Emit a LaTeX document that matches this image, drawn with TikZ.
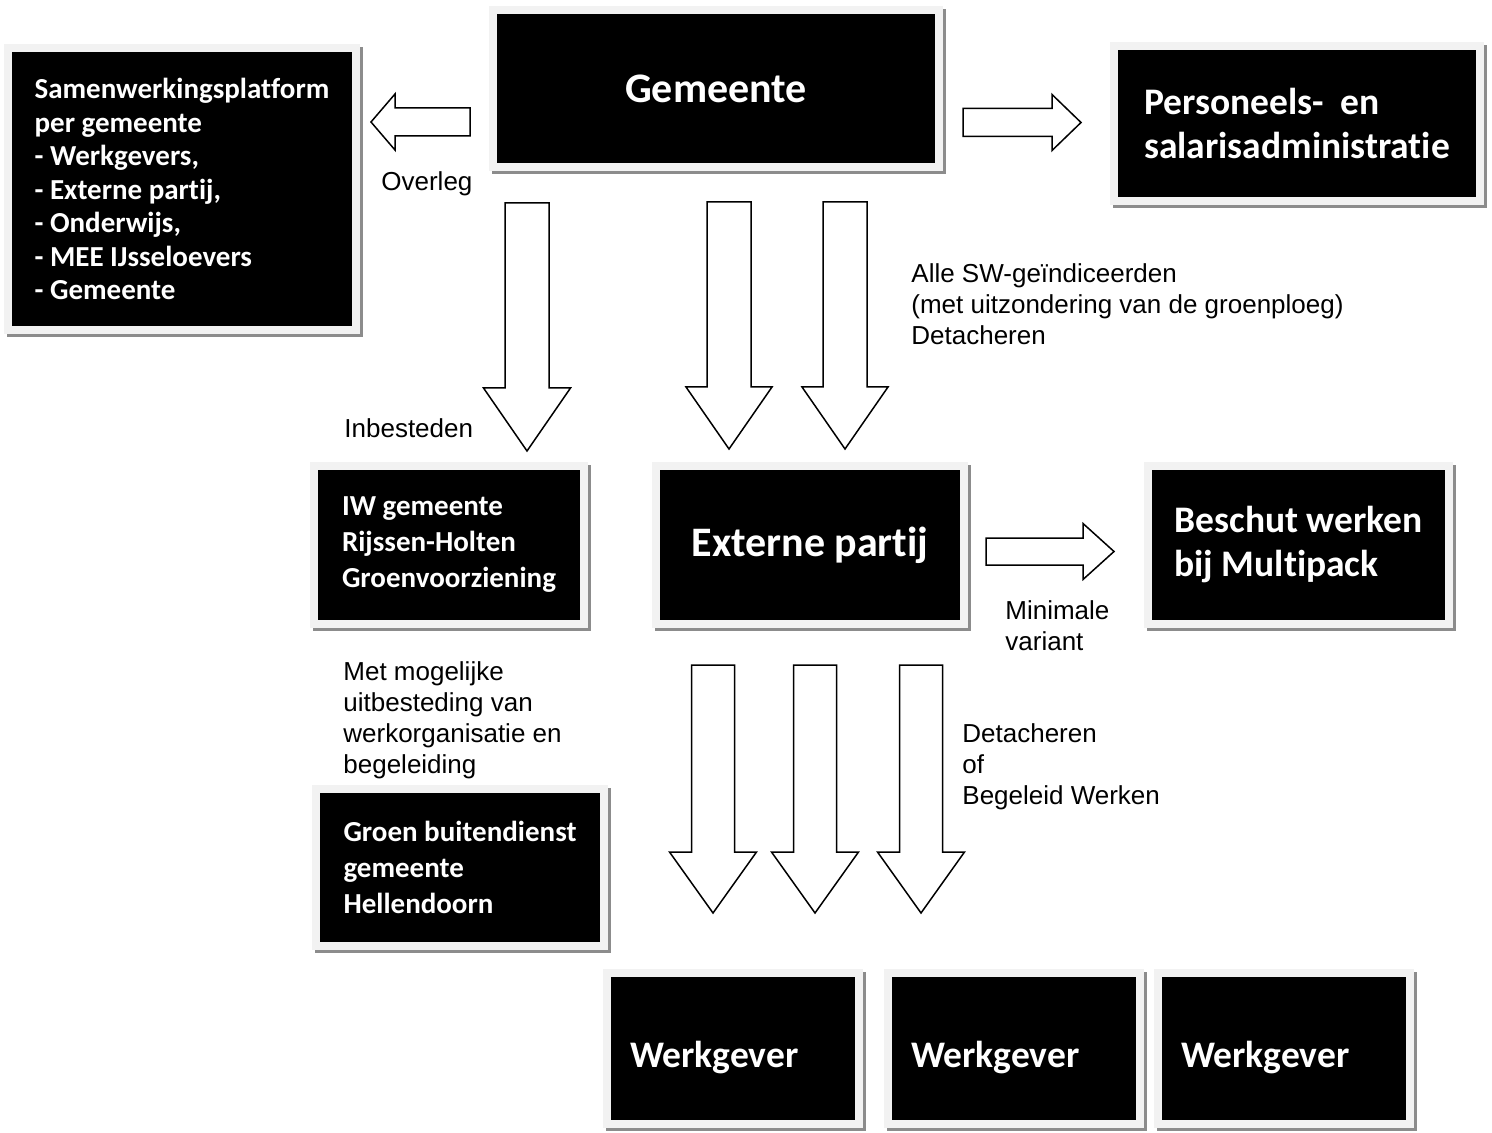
\documentclass[tikz,border=0pt]{standalone}
\usepackage{fontspec}
\setmainfont{Liberation Sans}
\newfontfamily\boxfont{Carlito}[Ligatures=NoCommon]

\definecolor{framegray}{HTML}{F2F2F2}
\definecolor{shadowgray}{HTML}{8C8C8C}

\tikzset{
  box/.style={fill=black, draw=framegray, line width=4pt, text=white,
    inner sep=0pt, align=left,
    preaction={draw=shadowgray, transform canvas={xshift=1.5pt, yshift=-1.5pt}}},
  smallfont/.style={font=\boxfont\bfseries\fontsize{14.5pt}{18pt}\selectfont},
  listfont/.style={font=\boxfont\bfseries\fontsize{14.5pt}{16.75pt}\selectfont},
  midfont/.style={font=\boxfont\bfseries\fontsize{18.75pt}{22pt}\selectfont},
  bigfont/.style={font=\boxfont\bfseries\fontsize{21pt}{25pt}\selectfont},
  wgbox/.style={box, midfont, text width=103pt, text height=18.5pt, text depth=0pt,
    minimum width=126pt, minimum height=75.5pt},
  lbl/.style={anchor=west, inner sep=0pt, align=left,
    font=\fontsize{13pt}{15.5pt}\selectfont},
  arrowline/.style={draw=black, fill=white, line width=0.75pt, line join=miter},
  pics/blockarrow/.style args={#1/#2/#3/#4}{code={
    \draw[arrowline] (0,-#2) -- ({#1-#4},-#2) -- ({#1-#4},-#3) -- (#1,0)
      -- ({#1-#4},#3) -- ({#1-#4},#2) -- (0,#2) -- cycle;
  }}
}

\begin{document}
\begin{tikzpicture}[x=0.5pt, y=-0.5pt]
    \useasboundingbox (0,0) rectangle (1492,1133);

    % Boxes, top row.
    \node[box, listfont, minimum width=174pt, minimum height=141pt] (platform) at (182,189)
      {Samenwerkingsplatform\\per gemeente\\- Werkgevers,\\- Externe partij,\\- Onderwijs,\\- MEE IJsseloevers\\- Gemeente};
    \node[box, bigfont, minimum width=223pt, minimum height=78.5pt] (gemeente) at (716,88.5) {Gemeente};
    \node[box, midfont, minimum width=183pt, minimum height=77.5pt] (personeel) at (1297,123.5)
      {Personeels-\ \ en\\salarisadministratie};

    % Boxes, middle row.
    \node[box, smallfont, minimum width=135pt, minimum height=79pt] (iw) at (449,545)
      {IW gemeente\\Rijssen-Holten\\Groenvoorziening};
    \node[box, bigfont, minimum width=154pt, minimum height=79pt] (extern) at (810,545) {Externe partij};
    \node[box, midfont, minimum width=150.5pt, minimum height=79pt] (beschut) at (1298.5,545)
      {Beschut werken\\bij Multipack};
    \node[box, smallfont, minimum width=144pt, minimum height=78.5pt] (groen) at (460,867.5)
      {Groen buitendienst\\gemeente\\Hellendoorn};

    % Werkgevers.
    \node[wgbox] (wg1) at (733,1048.5) {Werkgever};
    \node[wgbox] (wg2) at (1014,1048.5) {Werkgever};
    \node[wgbox] (wg3) at (1284,1048.5) {Werkgever};

    % Block arrows.
    \pic[rotate=180] (overleg) at (470,122) {blockarrow=99/14/28/24};
    \pic (naarpers) at (963,122.5) {blockarrow=118/14/28/29};
    \pic[rotate=-90] (inbest) at (527,203) {blockarrow=248/22/43.5/63};
    \pic[rotate=-90] (det1) at (729,202) {blockarrow=247/22/43/62};
    \pic[rotate=-90] (det2) at (845,202) {blockarrow=247/22/43/62};
    \pic (minvar) at (986,551.5) {blockarrow=128/13.5/28/31};
    \pic[rotate=-90] (wgpijl1) at (713,665) {blockarrow=248/21.5/43.5/61};
    \pic[rotate=-90] (wgpijl2) at (815,665) {blockarrow=248/21.5/43.5/61};
    \pic[rotate=-90] (wgpijl3) at (921,665) {blockarrow=248/21.5/43.5/61};

    % Labels.
    \node[lbl] (overlegtxt) at (381,184) {Overleg};
    \node[lbl] (alletxt) at (911,304) {Alle SW-geïndiceerden\\(met uitzondering van de groenploeg)\\Detacheren};
    \node[lbl] (inbesttxt) at (344,428) {Inbesteden};
    \node[lbl] (minvartxt) at (1005,626) {Minimale\\variant};
    \node[lbl] (mettxt) at (343,720) {Met mogelijke\\uitbesteding van\\werkorganisatie en\\begeleiding};
    \node[lbl] (dettxt) at (962,767) {Detacheren\\of\\Begeleid Werken};

\end{tikzpicture}
\end{document}
